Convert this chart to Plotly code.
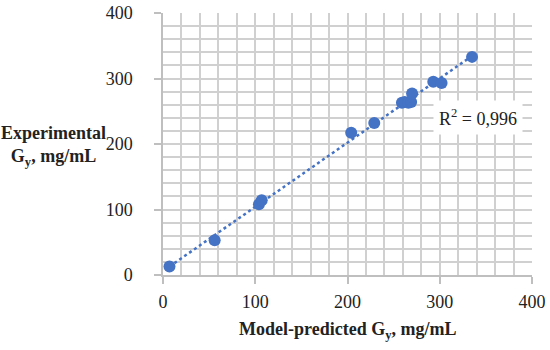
import numpy as np
import plotly.graph_objects as go

predicted = [7, 56, 104, 107, 204, 229, 259, 262, 266, 269, 270, 293, 302, 335]
experimental = [13, 53, 108, 114, 217, 232, 263, 264, 263, 264, 277, 295, 293, 333]
r2_label = "R<sup>2</sup> = 0,996"
x_ticks = [0, 100, 200, 300, 400]
y_ticks = [0, 100, 200, 300, 400]

blue = "#4472C4"
grid = "#d0d0d0"
font_family = "Liberation Serif"

xa = np.array(predicted, dtype=float)
ya = np.array(experimental, dtype=float)
slope, intercept = np.polyfit(xa, ya, 1)
tx = np.array([xa.min(), xa.max()])
ty = slope * tx + intercept

fig = go.Figure()
fig.add_trace(go.Scatter(x=tx, y=ty, mode="lines",
                         line=dict(color=blue, width=2.5, dash="dot"),
                         hoverinfo="skip", showlegend=False))
fig.add_trace(go.Scatter(x=predicted, y=experimental, mode="markers",
                         marker=dict(color=blue, size=12),
                         showlegend=False))

axis_common = dict(
    range=[0, 400], dtick=100, tick0=0,
    showgrid=True, gridcolor=grid, gridwidth=2,
    showline=True, linecolor="#bfbfbf", linewidth=1.5,
    ticks="outside", ticklen=7, tickcolor="#bfbfbf", tickwidth=1.5,
    minor=dict(dtick=20, showgrid=True, gridcolor=grid, gridwidth=2, ticks=""),
    zeroline=False, fixedrange=True, automargin=False,
    tickfont=dict(family=font_family, size=18, color="#222"),
)

fig.update_layout(
    width=550, height=350,
    margin=dict(l=163, r=18, t=13, b=75),
    paper_bgcolor="white", plot_bgcolor="white",
    xaxis=dict(**axis_common, tickvals=x_ticks, ticklabelstandoff=3),
    yaxis=dict(**axis_common, tickvals=y_ticks, ticklabelstandoff=18),
    font=dict(family=font_family),
    annotations=[
        dict(text=r2_label, xref="paper", yref="paper", x=0.854, y=0.601,
             xanchor="center", yanchor="middle",
             showarrow=False, bgcolor="white", borderpad=5,
             font=dict(family=font_family, size=18, color="#222")),
        dict(text="<b>Model-predicted G<sub>y</sub>, mg/mL</b>", xref="paper", yref="paper",
             x=0.499, y=0, yshift=-55, xanchor="center", yanchor="middle", showarrow=False,
             font=dict(family=font_family, size=18, color="#222")),
        dict(text="<b>Experimental<br>G<sub>y</sub>, mg/mL</b>", xref="paper", yref="paper",
             x=-0.297, y=0.492, xanchor="center", yanchor="middle", showarrow=False,
             align="center",
             font=dict(family=font_family, size=18, color="#222")),
    ],
)

fig.write_html("out.html", config={"displayModeBar": False},
               post_script="document.body.style.margin='0';document.body.style.overflow='hidden';")
